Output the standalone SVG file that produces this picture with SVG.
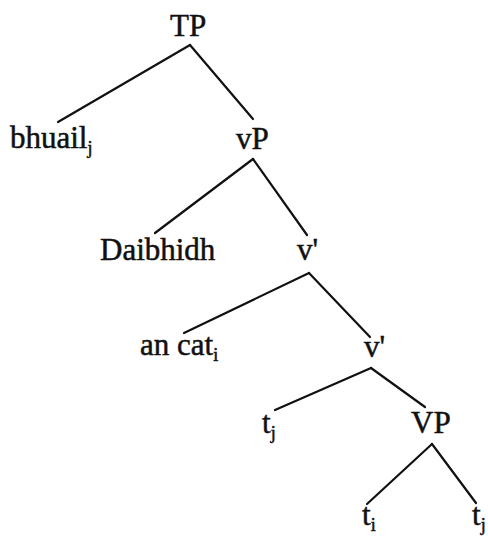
<svg xmlns="http://www.w3.org/2000/svg" width="488" height="536" viewBox="0 0 488 536">
  <style>
    .lbl { font-family: "Liberation Serif", "Times New Roman", serif; font-size: 31px; fill: #111; stroke: #111; stroke-width: 0.5; }
    .sub { font-size: 18px; }
    .edge { stroke: #111; stroke-width: 2.2; stroke-linecap: round; fill: none; }
  </style>
  <rect width="488" height="536" fill="#fff"/>

  <!-- branches -->
  <g id="connectors">
    <path class="edge" d="M190,45 L58,122"/>
    <path class="edge" d="M190,45 L253,119"/>
    <path class="edge" d="M253,159 L155,233"/>
    <path class="edge" d="M253,159 L307,235"/>
    <path class="edge" d="M309,273 L184,333"/>
    <path class="edge" d="M309,273 L370,337"/>
    <path class="edge" d="M371,368 L275,410"/>
    <path class="edge" d="M371,368 L425,407"/>
    <path class="edge" d="M432,444 L367,504"/>
    <path class="edge" d="M432,444 L476,503"/>
  </g>

  <!-- nodes -->
  <g id="node-TP"><text class="lbl" x="170" y="36">TP</text></g>
  <g id="node-bhuail"><text class="lbl" x="10" y="148">bhuail<tspan class="sub" dy="6">j</tspan></text></g>
  <g id="node-vP"><text class="lbl" x="236" y="149">vP</text></g>
  <g id="node-Daibhidh"><text class="lbl" x="100" y="260">Daibhidh</text></g>
  <g id="node-vbar1"><text class="lbl" x="297" y="260">v'</text></g>
  <g id="node-ancat"><text class="lbl" x="140" y="355">an cat<tspan class="sub" dy="6">i</tspan></text></g>
  <g id="node-vbar2"><text class="lbl" x="364" y="357">v'</text></g>
  <g id="node-tj1"><text class="lbl" x="262" y="433">t<tspan class="sub" dy="6">j</tspan></text></g>
  <g id="node-VP"><text class="lbl" x="411" y="433">VP</text></g>
  <g id="node-ti"><text class="lbl" x="362" y="525">t<tspan class="sub" dy="6">i</tspan></text></g>
  <g id="node-tj2"><text class="lbl" x="472" y="525">t<tspan class="sub" dy="6">j</tspan></text></g>
</svg>
